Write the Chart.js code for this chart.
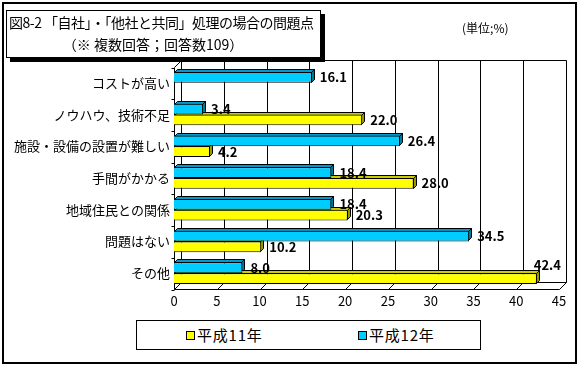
<!DOCTYPE html>
<html lang="ja">
<head>
<meta charset="utf-8">
<script src="https://cdn.jsdelivr.net/npm/chart.js@4/dist/chart.umd.min.js"></script>
<style>
    html, body { margin: 0; padding: 0; background: #fff; }
    body { width: 580px; height: 369px; position: relative; overflow: hidden; font-family: "Noto Sans CJK JP", sans-serif; color: #000; }
    #frame { position: absolute; left: 2px; top: 2px; width: 571px; height: 358px; border: 2px solid #000; }
    #chart { position: absolute; left: 0; top: 0; }
    #title-box { position: absolute; left: 6px; top: 10px; width: 313px; height: 46px; border: 1px solid #000; background: #fff; box-shadow: 4px 4px 0 #000; }
    #title-1 { position: absolute; left: 2px; top: 2px; font-size: 14px; letter-spacing: -0.5px; white-space: nowrap; line-height: 18px; }
    #title-2 { position: absolute; left: 0; width: 292px; top: 24px; font-size: 14px; letter-spacing: 0; text-align: center; white-space: nowrap; line-height: 18px; }
    #unit { position: absolute; left: 462px; top: 19px; font-size: 12px; white-space: nowrap; }
    #legend { position: absolute; left: 136px; top: 320px; width: 343px; height: 28px; border: 1px solid #000; background: #fff; }
    .legend-item { position: absolute; top: 5px; font-size: 15px; line-height: 18px; white-space: nowrap; letter-spacing: 0.8px; }
    .legend-item span { display: inline-block; width: 7px; height: 7px; border: 1px solid #000; margin-right: 2px; vertical-align: 1px; }
</style>
</head>
<body>
<div id="frame"></div>
<canvas id="chart" width="580" height="369"></canvas>
<div id="title-box">
    <div id="title-1">図8-2 「自社」・「他社と共同」処理の場合の問題点</div>
    <div id="title-2">（※ 複数回答；回答数109）</div>
</div>
<div id="unit">(単位;%)</div>
<div id="legend"></div>

<script>
// データ
const categories = ['コストが高い', 'ノウハウ、技術不足', '施設・設備の設置が難しい', '手間がかかる', '地域住民との関係', '問題はない', 'その他'];
const seriesNames = ['平成11年', '平成12年'];
const h11Values = [null, 22.0, 4.2, 28.0, 20.3, 10.2, 42.4];
const h12Values = [16.1, 3.4, 26.4, 18.4, 18.4, 34.5, 8.0];
const axisMin = 0;
const axisMax = 45;
const axisStep = 5;

document.addEventListener('DOMContentLoaded', function() {
    const FONT = '"Noto Sans CJK JP", sans-serif';
    const WALL = 7;   // 奥行き(背面の壁)
    const BAR_D = 3;  // 棒の奥行き

    // 凡例 (HTML)
    const legendColors = ['#FFFF00', '#00CCFF'];
    const legendX = [49, 221];
    const legend = document.getElementById('legend');
    seriesNames.forEach((name, i) => {
        legend.insertAdjacentHTML('beforeend',
            `<div class="legend-item" style="left:${legendX[i]}px"><span style="background:${legendColors[i]}"></span>${name}</div>`);
    });

    function poly(ctx, pts, fill) {
        ctx.beginPath();
        ctx.moveTo(pts[0][0], pts[0][1]);
        for (let k = 1; k < pts.length; k++) ctx.lineTo(pts[k][0], pts[k][1]);
        ctx.closePath();
        ctx.fillStyle = fill;
        ctx.fill();
        ctx.stroke();
    }

    // 背面の壁・床・目盛線と棒の上面/側面を描く
    const depthPlugin = {
        id: 'depth3d',
        beforeDatasetsDraw(chart) {
            const { ctx, chartArea: a, scales } = chart;
            const xs = scales.x;
            const L = Math.round(a.left) + 0.5, R = Math.round(a.right) + 0.5;
            const T = Math.round(a.top) + 0.5, B = Math.round(a.bottom) + 0.5;
            ctx.save();
            ctx.strokeStyle = '#000';
            ctx.lineWidth = 1;
            ctx.beginPath();
            // 左の壁
            ctx.moveTo(L, T); ctx.lineTo(L, B);
            ctx.moveTo(L, T); ctx.lineTo(L + WALL, T - WALL);
            ctx.moveTo(L + WALL, T - WALL); ctx.lineTo(R + WALL, T - WALL);
            ctx.moveTo(L + WALL, T - WALL); ctx.lineTo(L + WALL, B - WALL);
            // 床
            ctx.moveTo(L, B); ctx.lineTo(R, B);
            ctx.moveTo(L + WALL, B - WALL); ctx.lineTo(R + WALL, B - WALL);
            for (let v = axisMin; v <= axisMax; v += axisStep) {
                const px = Math.round(xs.getPixelForValue(v)) + 0.5;
                ctx.moveTo(px, B); ctx.lineTo(px + WALL, B - WALL);
                ctx.moveTo(px + WALL, T - WALL); ctx.lineTo(px + WALL, B - WALL);
            }
            // 左軸の小目盛
            const step = (B - T) / categories.length;
            for (let k = 0; k <= categories.length; k++) {
                const py = Math.round(T + step * k) + 0.5;
                ctx.moveTo(L - 3, py); ctx.lineTo(L, py);
            }
            ctx.stroke();

            // 棒の上面・側面
            chart.data.datasets.forEach((ds, i) => {
                const meta = chart.getDatasetMeta(i);
                meta.data.forEach((bar, j) => {
                    if (ds.data[j] == null) return;
                    const p = bar.getProps(['x', 'y', 'base', 'height'], true);
                    const top = Math.round(p.y - p.height / 2) + 0.5;
                    const bot = Math.round(p.y + p.height / 2) - 0.5;
                    const end = Math.round(p.x) - 0.5;
                    const base = Math.round(p.base) + 0.5;
                    poly(ctx, [[base, top], [base + BAR_D, top - BAR_D], [end + BAR_D, top - BAR_D], [end, top]], ds.topColor);
                    poly(ctx, [[end, top], [end + BAR_D, top - BAR_D], [end + BAR_D, bot - BAR_D], [end, bot]], ds.sideColor);
                });
            });
            ctx.restore();
        }
    };

    // 数値ラベル
    const valueLabelPlugin = {
        id: 'valueLabels',
        afterDatasetsDraw(chart) {
            const { ctx, chartArea: a } = chart;
            ctx.save();
            ctx.font = 'bold 13px ' + FONT;
            ctx.fillStyle = '#000';
            chart.data.datasets.forEach((ds, i) => {
                chart.getDatasetMeta(i).data.forEach((bar, j) => {
                    const v = ds.data[j];
                    if (v == null) return;
                    const p = bar.getProps(['x', 'y', 'height'], true);
                    const text = v.toFixed(1);
                    const w = ctx.measureText(text).width;
                    let tx = p.x + BAR_D + 5;
                    if (tx + w > a.right + WALL) {
                        // 右端に収まらないときは棒の上に置く
                        ctx.textBaseline = 'bottom';
                        ctx.fillText(text, p.x - 3, p.y - p.height / 2 - BAR_D + 1);
                    } else {
                        ctx.textBaseline = 'middle';
                        ctx.fillText(text, tx, p.y);
                    }
                });
            });
            ctx.restore();
        }
    };

    new Chart(document.getElementById('chart'), {
        type: 'bar',
        data: {
            labels: categories,
            datasets: [
                {
                    label: seriesNames[1],
                    data: h12Values,
                    backgroundColor: '#00CCFF',
                    topColor: '#0099CC',
                    sideColor: '#007A99',
                    borderColor: '#000',
                    borderWidth: 1
                },
                {
                    label: seriesNames[0],
                    data: h11Values,
                    backgroundColor: '#FFFF00',
                    topColor: '#CCCC00',
                    sideColor: '#999900',
                    borderColor: '#000',
                    borderWidth: 1
                }
            ]
        },
        options: {
            indexAxis: 'y',
            responsive: false,
            animation: false,
            categoryPercentage: 0.68,
            barPercentage: 1,
            layout: { padding: { top: 67, right: 21, left: 0, bottom: 0 } },
            scales: {
                x: {
                    min: axisMin,
                    max: axisMax,
                    grid: { display: false, drawTicks: false },
                    border: { display: false },
                    ticks: { stepSize: axisStep, color: '#000', padding: 4, font: { family: FONT, size: 13 } },
                    afterFit: s => { s.height = 80; }
                },
                y: {
                    grid: { display: false, drawTicks: false },
                    border: { display: false },
                    ticks: { color: '#000', padding: 4, font: { family: FONT, size: 13 } },
                    afterFit: s => { s.width = 174; }
                }
            },
            plugins: {
                legend: { display: false },
                tooltip: { enabled: false }
            }
        },
        plugins: [depthPlugin, valueLabelPlugin]
    });
});
</script>
</body>
</html>
